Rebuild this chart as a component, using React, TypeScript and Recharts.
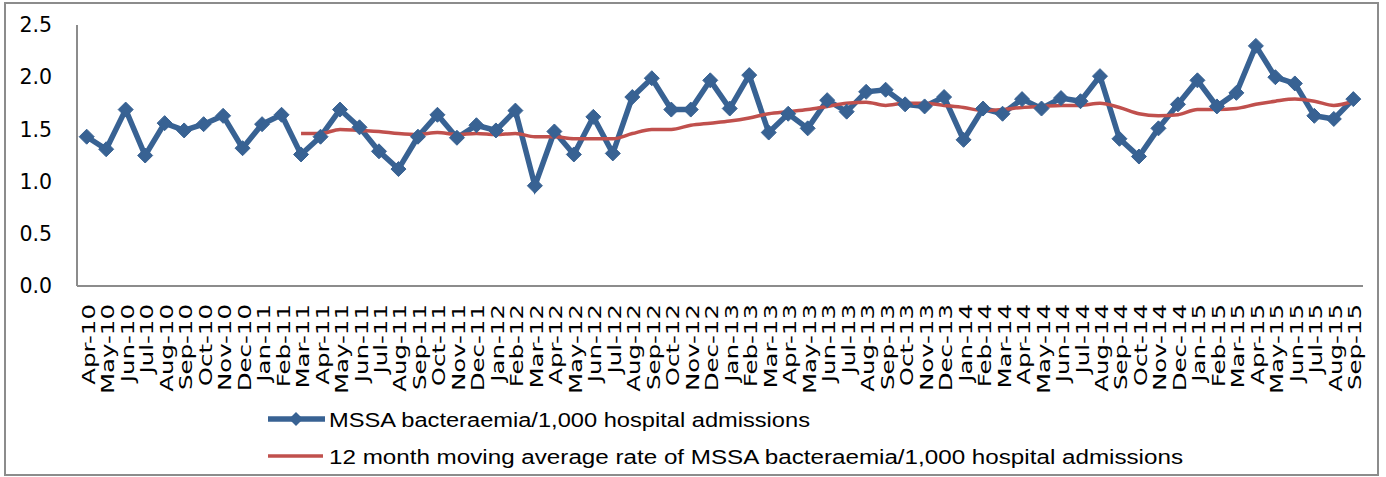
import React from "react";
import { LineChart, Line, XAxis, YAxis, Legend } from "recharts";

// months Apr-10 .. Sep-15
const months = [
  "Apr-10", "May-10", "Jun-10", "Jul-10", "Aug-10", "Sep-10", "Oct-10", "Nov-10", "Dec-10",
  "Jan-11", "Feb-11", "Mar-11", "Apr-11", "May-11", "Jun-11", "Jul-11", "Aug-11", "Sep-11",
  "Oct-11", "Nov-11", "Dec-11", "Jan-12", "Feb-12", "Mar-12", "Apr-12", "May-12", "Jun-12",
  "Jul-12", "Aug-12", "Sep-12", "Oct-12", "Nov-12", "Dec-12", "Jan-13", "Feb-13", "Mar-13",
  "Apr-13", "May-13", "Jun-13", "Jul-13", "Aug-13", "Sep-13", "Oct-13", "Nov-13", "Dec-13",
  "Jan-14", "Feb-14", "Mar-14", "Apr-14", "May-14", "Jun-14", "Jul-14", "Aug-14", "Sep-14",
  "Oct-14", "Nov-14", "Dec-14", "Jan-15", "Feb-15", "Mar-15", "Apr-15", "May-15", "Jun-15",
  "Jul-15", "Aug-15", "Sep-15",
];

const monthlyRate = [
  1.43, 1.31, 1.69, 1.25, 1.56, 1.49, 1.55, 1.63, 1.32,
  1.55, 1.64, 1.26, 1.43, 1.69, 1.52, 1.29, 1.12, 1.43,
  1.64, 1.42, 1.54, 1.49, 1.68, 0.96, 1.48, 1.26, 1.62,
  1.27, 1.81, 1.99, 1.69, 1.69, 1.97, 1.70, 2.02, 1.47,
  1.65, 1.51, 1.78, 1.67, 1.86, 1.88, 1.74, 1.72, 1.81,
  1.40, 1.70, 1.65, 1.79, 1.70, 1.80, 1.77, 2.01, 1.41,
  1.24, 1.51, 1.74, 1.97, 1.72, 1.85, 2.30, 2.00, 1.94,
  1.63, 1.60, 1.79,
];

// 12 month moving average, starts at Mar-11
const movingAvg = [
  null, null, null, null, null, null, null, null, null,
  null, null, 1.46, 1.46, 1.50, 1.49, 1.48, 1.46, 1.45,
  1.47, 1.45, 1.46, 1.45, 1.46, 1.43, 1.43, 1.41, 1.41,
  1.41, 1.46, 1.50, 1.50, 1.54, 1.56, 1.58, 1.61, 1.65,
  1.67, 1.69, 1.72, 1.75, 1.76, 1.73, 1.75, 1.75, 1.73,
  1.71, 1.68, 1.69, 1.71, 1.72, 1.73, 1.73, 1.75, 1.71,
  1.65, 1.63, 1.64, 1.69, 1.69, 1.70, 1.74, 1.77, 1.79,
  1.77, 1.73, 1.77,
];

const yTicks = [0, 0.5, 1.0, 1.5, 2.0, 2.5];

const data = months.map((m, i) => ({
  month: m,
  rate: monthlyRate[i],
  avg: movingAvg[i],
}));

const BLUE = "#386293";
const RED = "#C0504D";
const AXIS = "#8c8c8c";

const Diamond = (props: any) => {
  const { cx, cy } = props;
  if (cx == null || cy == null) return null;
  const r = 7.5;
  return (
    <path
      d={`M${cx},${cy - r} L${cx + r},${cy} L${cx},${cy + r} L${cx - r},${cy} Z`}
      fill={BLUE}
      stroke={BLUE}
      strokeWidth={1}
    />
  );
};

const MonthTick = (props: any) => {
  const { x, y, payload } = props;
  return (
    <text
      transform={`translate(${x},${y + 10}) rotate(-90) scale(1.36,1)`}
      textAnchor="end"
      dy={8}
      fontSize={18}
      fontFamily="DejaVu Sans"
      fill="#000"
    >
      {payload.value}
    </text>
  );
};

const LegendBox = () => (
  <svg width={940} height={72}>
    <line x1={8} x2={65} y1={19} y2={19} stroke={BLUE} strokeWidth={5.5} />
    <path d="M36,12 L43,19 L36,26 L29,19 Z" fill={BLUE} />
    <text x={69} y={27} fontSize={20} fontFamily="Liberation Sans" textLength={481} lengthAdjust="spacingAndGlyphs">
      MSSA bacteraemia/1,000 hospital admissions
    </text>
    <line x1={8} x2={63} y1={56} y2={56} stroke={RED} strokeWidth={3.5} />
    <text x={69} y={64} fontSize={20} fontFamily="Liberation Sans" textLength={854} lengthAdjust="spacingAndGlyphs">
      12 month moving average rate of MSSA bacteraemia/1,000 hospital admissions
    </text>
  </svg>
);

export default function App() {
  return (
    <div style={{ position: "absolute", left: 0, top: 0, width: 1386, height: 477, background: "#fff" }}>
      <div
        style={{
          position: "absolute",
          left: 4,
          top: 2,
          width: 1375,
          height: 474,
          border: `2px solid ${AXIS}`,
          boxSizing: "border-box",
        }}
      />
      <LineChart
        width={1386}
        height={477}
        data={data}
        margin={{ top: 25, right: 23, left: 0, bottom: 81 }}
        style={{ position: "absolute", left: 0, top: 0 }}
      >
        <XAxis
          dataKey="month"
          interval={0}
          height={110}
          padding={{ left: 9.7, right: 9.7 }}
          axisLine={{ stroke: AXIS, strokeWidth: 2 }}
          tickLine={false}
          tick={<MonthTick />}
        />
        <YAxis
          domain={[0, 2.5]}
          ticks={yTicks}
          width={77}
          axisLine={{ stroke: AXIS, strokeWidth: 2 }}
          tickLine={false}
          tickSize={0}
          tickMargin={25}
          tickFormatter={(v: number) => v.toFixed(1)}
          tick={{ fontSize: 20.5, fontFamily: "DejaVu Sans", fill: "#000" }}
        />
        <Legend
          layout="horizontal"
          verticalAlign="middle"
          wrapperStyle={{ left: 260, top: 400, width: 940 }}
          content={<LegendBox />}
        />
        <Line
          type="linear"
          dataKey="rate"
          stroke={BLUE}
          strokeWidth={5.5}
          dot={<Diamond />}
          activeDot={false}
          isAnimationActive={false}
        />
        <Line
          type="monotone"
          dataKey="avg"
          stroke={RED}
          strokeWidth={3.5}
          dot={false}
          activeDot={false}
          connectNulls={false}
          isAnimationActive={false}
        />
      </LineChart>
    </div>
  );
}
